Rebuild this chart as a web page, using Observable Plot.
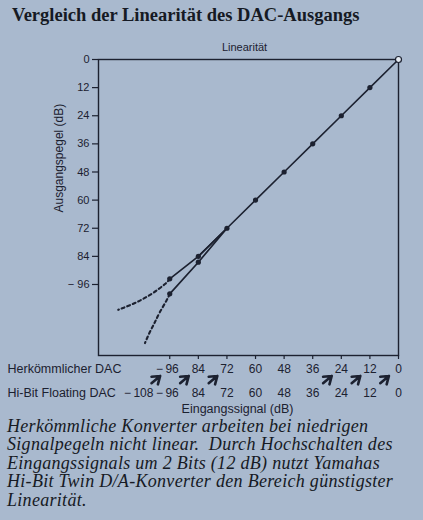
<!DOCTYPE html>
<html>
<head>
<meta charset="utf-8">
<script src="https://cdn.jsdelivr.net/npm/d3@7"></script>
<script src="https://cdn.jsdelivr.net/npm/@observablehq/plot@0.6"></script>
<style>
  html, body { margin: 0; padding: 0; }
  body { width: 423px; height: 520px; background: #a9b9ce; position: relative; overflow: hidden; }
  #title { position: absolute; left: 12px; top: 4px; font-family: "Liberation Serif", serif; font-weight: bold; font-size: 18.5px; line-height: 22px; color: #161a24; white-space: nowrap; }
  #chart { position: absolute; left: 0; top: 32px; }
  #caption { position: absolute; left: 7px; top: 417px; font-family: "Liberation Serif", serif; font-style: italic; font-size: 18px; letter-spacing: 0.3px; line-height: 18.4px; color: #161a24; white-space: nowrap; }
</style>
</head>
<body>
<div id="title">Vergleich der Linearität des DAC-Ausgangs</div>
<div id="chart"></div>
<div id="caption">Herkömmliche Konverter arbeiten bei niedrigen<br>Signalpegeln nicht linear.&nbsp; Durch Hochschalten des<br>Eingangssignals um 2 Bits (12 dB) nutzt Yamahas<br>Hi-Bit Twin D/A-Konverter den Bereich günstigster<br>Linearität.</div>
<script>
// ---- data ----
const yTicks = [0, 12, 24, 36, 48, 60, 72, 84, 96];
const herkTicks = [-96, -84, -72, -60, -48, -36, -24, -12, 0];
const hiBitTicks = [-108, -96, -84, -72, -60, -48, -36, -24, -12, 0];

const linearIn = [0, -12, -24, -36, -48, -60, -72, -84];
const linearOut = [0, 12, 24, 36, 48, 60, 72, 84];

const upperSolidIn = [-72, -84, -96];
const upperSolidOut = [72, 84, 93.6];
const upperDashIn = [-96, -98, -103.6, -110.6, -117.6];
const upperDashOut = [93.6, 95.8, 100, 103.9, 106.8];

const lowerSolidIn = [-72, -84, -96];
const lowerSolidOut = [72, 86.5, 100];
const lowerDashIn = [-96, -97.4, -100.2, -102.3, -104.4, -106.4];
const lowerDashOut = [100, 102.9, 107.9, 112.2, 116.4, 121];

// shifts: Hi-Bit input level -> conventional DAC level (+12 dB)
const shiftFrom = [-108, -96, -84, -36, -24, -12];
const shiftTo = [-96, -84, -72, -24, -12, 0];
const rowHerk = 131.6, rowHiBit = 141.8;

const ink = "#1c2130";

const pts = (xs, ys) => xs.map((x, i) => ({x, y: ys[i]}));
const linear = pts(linearIn, linearOut);
const upperSolid = pts(upperSolidIn, upperSolidOut);
const upperDash = pts(upperDashIn, upperDashOut);
const lowerSolid = pts(lowerSolidIn, lowerSolidOut);
const lowerDash = pts(lowerDashIn, lowerDashOut);
const extraDots = [upperSolid[2], lowerSolid[1], lowerSolid[2]];
const shifts = shiftFrom.map((f, i) => ({from: f, to: shiftTo[i]}));

const fmtY = d => d === 96 ? "\u2212 96" : String(d);
const fmtX = d => d === -96 ? "\u2212\u200996\u2009\u2009" : String(Math.abs(d));
const fmtHi = d => d <= -96 ? "\u2212\u2009" + Math.abs(d) + "\u2009\u2009" : String(Math.abs(d));

const chart = Plot.plot({
  width: 423,
  height: 390,
  marginTop: 27,
  marginLeft: 98,
  marginRight: 25,
  marginBottom: 67,
  style: {background: "transparent", color: ink, fontFamily: "Liberation Sans, Arial, sans-serif", fontSize: "11px"},
  x: {domain: [-125.9, 0]},
  y: {domain: [0, 126.3], reverse: true},
  marks: [
    Plot.axisY({ticks: yTicks, tickSize: 6, tickPadding: 3, tickFormat: fmtY, label: null, fontSize: 11, strokeWidth: 1.2}),
    Plot.axisX({ticks: herkTicks, tickSize: 4, tickPadding: 4.5, tickFormat: fmtX, label: null, fontSize: 12, strokeWidth: 1.2}),
    Plot.axisX({ticks: hiBitTicks, tickSize: 0, tickPadding: 32.5, tickFormat: fmtHi, label: null, fontSize: 12}),
    Plot.frame({stroke: ink, strokeWidth: 1.4}),
    Plot.text(["Linearität"], {frameAnchor: "top", dx: -4, dy: -9, lineAnchor: "bottom", fontSize: 11}),
    Plot.text(["Ausgangspegel (dB)"], {frameAnchor: "left", dx: -39, dy: 5, rotate: -90, fontSize: 12}),
    Plot.text(["Herkömmlicher DAC"], {frameAnchor: "bottom-left", dx: -91, dy: 17, textAnchor: "start", lineAnchor: "bottom", fontSize: 12.5}),
    Plot.text(["Hi-Bit Floating DAC"], {frameAnchor: "bottom-left", dx: -91, dy: 41, textAnchor: "start", lineAnchor: "bottom", fontSize: 12.5}),
    Plot.text(["Eingangssignal (dB)"], {frameAnchor: "bottom", dx: -11, dy: 57, lineAnchor: "bottom", fontSize: 12.5}),
    Plot.arrow(shifts, {x1: "from", x2: "to", y1: () => rowHiBit, y2: () => rowHerk, insetStart: 13.5, insetEnd: 12.5, stroke: ink, strokeWidth: 2.6, headLength: 5, headAngle: 70}),
    Plot.line(upperDash, {x: "x", y: "y", curve: "natural", stroke: ink, strokeWidth: 2.1, strokeDasharray: "3,3"}),
    Plot.line(lowerDash, {x: "x", y: "y", curve: "natural", stroke: ink, strokeWidth: 2.1, strokeDasharray: "3,3"}),
    Plot.line(upperSolid, {x: "x", y: "y", stroke: ink, strokeWidth: 1.7}),
    Plot.line(lowerSolid, {x: "x", y: "y", stroke: ink, strokeWidth: 1.7}),
    Plot.line(linear, {x: "x", y: "y", stroke: ink, strokeWidth: 1.6}),
    Plot.dot(linear.slice(1), {x: "x", y: "y", r: 2.6, fill: ink}),
    Plot.dot(extraDots, {x: "x", y: "y", r: 2.6, fill: ink}),
    Plot.dot(linear.slice(0, 1), {x: "x", y: "y", r: 3, fill: "#e6ecf3", stroke: ink, strokeWidth: 1.2})
  ]
});
document.getElementById("chart").appendChild(chart);
</script>
</body>
</html>
